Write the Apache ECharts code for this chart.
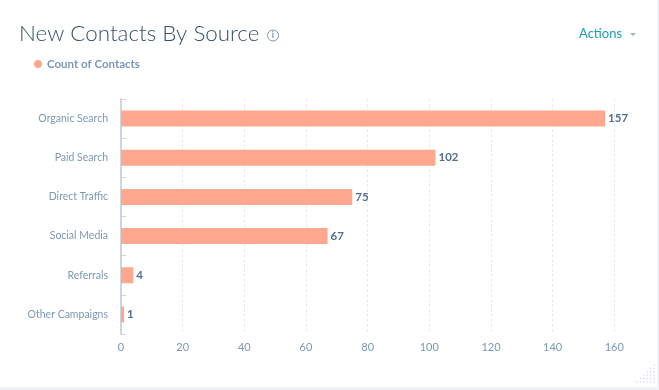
<!DOCTYPE html>
<html>
<head>
<meta charset="utf-8">
<style>
  html, body { margin: 0; padding: 0; background: #fff; }
  #chart-panel { width: 659px; height: 390px; }
</style>
<script src="https://cdn.jsdelivr.net/npm/echarts@6/dist/echarts.min.js"></script>
</head>
<body>
<div id="chart-panel"></div>
<script>
const categories = ['Organic Search', 'Paid Search', 'Direct Traffic', 'Social Media', 'Referrals', 'Other Campaigns'];
const contactCounts = [157, 102, 75, 67, 4, 1];
const seriesName = 'Count of Contacts';

const fontName = 'Lato';
const labelColor = '#7c98b6';
const darkText = '#425b76';
const barColor = '#ffa78f';

// resize grip in the bottom right corner, rows of dots
const grip = [];
for (let row = 0; row < 6; row++) {
  for (let col = 0; col <= row; col++) {
    grip.push({
      type: 'circle',
      silent: true,
      shape: { cx: 654 - col * 3.4, cy: 382 - (5 - row) * 3.4, r: 0.8 },
      style: { fill: '#d5dde8' }
    });
  }
}

const option = {
  backgroundColor: '#fff',
  animation: false,
  textStyle: { fontFamily: fontName },
  title: {
    text: 'New Contacts By Source',
    left: 14,
    top: 18,
    textStyle: { fontFamily: fontName, fontSize: 22.4, fontWeight: 300, color: '#34506f' }
  },
  legend: {
    left: 29,
    top: 53,
    icon: 'circle',
    itemWidth: 8,
    itemHeight: 8,
    itemGap: 4,
    selectedMode: false,
    textStyle: { fontFamily: fontName, fontSize: 11.5, fontWeight: 'bold', color: labelColor }
  },
  grid: { left: 121, top: 99, right: 44.7, bottom: 56 },
  xAxis: {
    type: 'value',
    min: 0,
    max: 160,
    interval: 20,
    axisLine: { show: false },
    axisTick: { show: false },
    axisLabel: { color: labelColor, fontSize: 11, margin: 8 },
    splitLine: { show: true, lineStyle: { color: '#e5ebf3', type: [3, 2], width: 1 } }
  },
  yAxis: {
    type: 'category',
    data: categories,
    inverse: true,
    axisLine: { show: true, lineStyle: { color: '#cbd6e2', width: 2 } },
    axisTick: { show: true, inside: true, length: 5, alignWithLabel: false, lineStyle: { color: '#cbd6e2' } },
    axisLabel: { color: labelColor, fontSize: 10.5, margin: 13, padding: [6, 0, 0, 0] },
    splitLine: { show: false }
  },
  series: [
    {
      name: seriesName,
      type: 'bar',
      data: contactCounts,
      barWidth: 16,
      itemStyle: { color: barColor },
      label: {
        show: true,
        position: 'right',
        distance: 3,
        color: '#516f90',
        fontFamily: fontName,
        fontSize: 11.5,
        fontWeight: 'bold',
        padding: [4, 0, 0, 0]
      }
    }
  ],
  graphic: [
    // panel edges
    { type: 'rect', silent: true, shape: { x: 657, y: 0, width: 2, height: 390 }, style: { fill: '#eef1f5' } },
    { type: 'rect', silent: true, shape: { x: 0, y: 387, width: 659, height: 3 }, style: { fill: '#eef1f5' } },
    // info icon next to the title
    { type: 'circle', silent: true, shape: { cx: 273, cy: 35.5, r: 5.5 }, style: { fill: 'none', stroke: labelColor, lineWidth: 1 } },
    {
      type: 'text',
      silent: true,
      x: 273,
      y: 35.5,
      style: { text: 'i', fill: labelColor, font: 'bold 9px Lato', align: 'center', verticalAlign: 'middle' }
    },
    // actions menu
    {
      type: 'text',
      silent: true,
      x: 579,
      y: 34,
      style: { text: 'Actions', fill: '#1a9fb0', font: '13px Lato', align: 'left', verticalAlign: 'middle' }
    },
    {
      type: 'polygon',
      silent: true,
      shape: { points: [[630, 33], [636, 33], [633, 36]] },
      style: { fill: '#9fb2c9' }
    }
  ].concat(grip)
};

const chart = echarts.init(document.getElementById('chart-panel'));
chart.setOption(option);
</script>
</body>
</html>
